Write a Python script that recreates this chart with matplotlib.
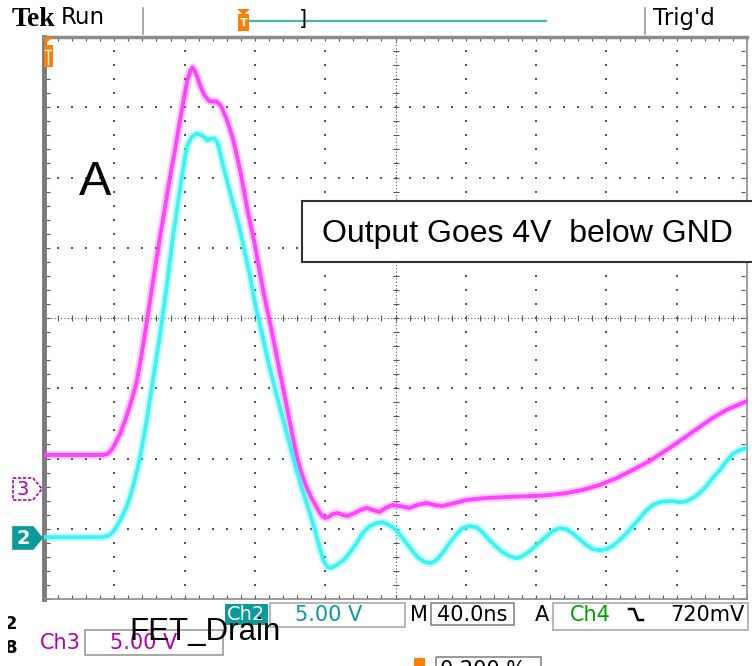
#!/usr/bin/env python3
# Tek scope capture: FET drain (Ch3, magenta) and output (Ch2, cyan)
import numpy as np
import matplotlib
matplotlib.use("Agg")
import matplotlib.pyplot as plt
from matplotlib.patches import Rectangle, Polygon

# --- trace data: time in ns, volts relative to channel ground ---
t_ch3 = [0.0, 33.3, 36.1, 38.4, 40.1, 43.0, 45.8, 48.1, 50.4, 52.6, 54.3, 56.6,
         58.9, 62.3, 65.7, 68.6, 71.4, 74.3, 77.1, 79.4, 81.6, 83.4, 84.5, 85.6,
         87.3, 89.0, 91.3, 94.2, 96.4, 98.1, 99.9, 101.0, 103.8, 107.3, 110.1,
         112.4, 115.8, 119.8, 122.6, 124.9, 127.7, 130.6, 134.0, 137.4, 140.8,
         143.7, 146.5, 149.4, 152.2, 155.1, 157.3, 159.7, 161.9, 164.2, 167.1,
         169.9, 172.8, 176.7, 180.1, 183.6, 187.0, 191.0, 194.3, 198.4, 202.3,
         208.0, 212.6, 217.7, 222.2, 226.8, 233.6, 240.5, 251.8, 263.2, 278.0,
         287.7, 297.3, 306.4, 316.1, 325.8, 334.9, 344.6, 354.2, 363.3, 373.0,
         380.4, 388.3, 394.6, 400.0]
v_ch3 = [2.35, 2.35, 2.42, 2.70, 3.06, 3.77, 4.69, 5.55, 6.47, 7.47, 8.61, 10.31,
         12.16, 14.94, 17.64, 19.77, 21.90, 23.90, 25.96, 27.59, 29.02, 29.73, 29.94, 29.73,
         29.23, 28.59, 27.95, 27.52, 27.52, 27.52, 27.31, 27.10, 26.31, 24.96, 23.47,
         22.12, 19.77, 17.42, 15.50, 13.94, 12.30, 10.53, 8.39, 6.26, 4.12,
         2.35, 1.07, 0.07, -0.71, -1.35, -1.85, -2.13, -2.06, -1.85, -1.78,
         -1.92, -1.99, -1.78, -1.56, -1.42, -1.56, -1.71, -1.42, -1.21, -1.28,
         -1.42, -1.21, -1.07, -1.21, -1.28, -1.07, -0.85, -0.71, -0.64, -0.57,
         -0.50, -0.36, -0.14, 0.21, 0.71, 1.28, 1.92, 2.70, 3.48, 4.34,
         4.98, 5.55, 5.90, 6.19]

t_ch2 = [0.0, 33.3, 37.3, 40.1, 43.5, 46.9, 49.8, 52.6, 54.9, 57.2, 59.5, 61.7,
         64.6, 67.4, 70.3, 73.1, 76.0, 78.2, 79.9, 81.6, 83.9, 86.7, 90.2, 93.0,
         95.3, 97.0, 98.7, 99.9, 101.6, 105.6, 111.2, 116.9, 120.3, 124.3, 128.3,
         135.7, 141.4, 146.5, 151.1, 154.5, 156.8, 159.0, 161.3, 163.0, 166.4,
         170.4, 173.8, 177.8, 181.2, 185.2, 189.2, 192.6, 196.6, 200.6, 204.0,
         208.0, 212.0, 216.5, 219.9, 223.3, 226.7, 230.7, 234.7, 238.1, 242.1,
         246.1, 249.5, 253.5, 257.5, 260.9, 264.9, 268.8, 272.3, 276.3, 280.2,
         284.8, 289.3, 293.3, 297.3, 300.7, 304.7, 308.7, 312.1, 316.1, 320.1,
         323.5, 327.5, 331.5, 334.9, 338.9, 342.9, 346.3, 350.3, 354.2, 357.6,
         361.6, 365.5, 369.0, 373.0, 376.9, 380.4, 384.4, 388.3, 391.7, 395.7,
         400.0]
v_ch2 = [0.00, 0.00, 0.14, 0.50, 1.21, 2.13, 3.20, 4.55, 5.83, 7.40, 9.17, 10.95,
         13.23, 15.65, 18.28, 21.12, 23.61, 25.39, 26.81, 27.88, 28.45, 28.73, 28.59, 28.23,
         28.38, 28.38, 28.09, 27.52, 26.60, 24.68, 22.05, 18.78, 16.50, 14.36, 12.09,
         8.53, 5.83, 3.56, 1.78, 0.36, -0.71, -1.64, -2.13, -2.20, -1.99,
         -1.64, -1.14, -0.43, 0.28, 0.78, 1.00, 1.07, 0.85, 0.50, -0.07,
         -0.71, -1.35, -1.78, -1.85, -1.64, -1.14, -0.43, 0.21, 0.64, 0.78,
         0.71, 0.36, -0.21, -0.71, -1.07, -1.35, -1.49, -1.35, -1.00, -0.57,
         -0.07, 0.43, 0.64, 0.57, 0.28, -0.14, -0.57, -0.85, -0.92, -0.85,
         -0.64, -0.21, 0.28, 0.78, 1.35, 1.92, 2.28, 2.49, 2.56, 2.56,
         2.49, 2.56, 2.77, 3.13, 3.63, 4.20, 4.76, 5.40, 5.90, 6.19,
         6.33]

VOLTS_PER_DIV = 5.0
NS_PER_DIV = 40.0
GND_CH3 = 1.58   # ground marker position, divisions from bottom
GND_CH2 = 0.88

MAGENTA = "#ff3cff"
CYAN = "#33f5f5"
TEAL = "#0a9a9a"
ORANGE = "#ff7f00"
PURPLE = "#b000b0"

fig = plt.figure(figsize=(7.52, 6.66), dpi=100)
fig.patch.set_facecolor("white")

# graticule area
ax = fig.add_axes([44 / 752, 67 / 666, 703 / 752, 562 / 666])
ax.set_xlim(0, 10 * NS_PER_DIV)
ax.set_ylim(0, 8)
ax.set_xticks([]); ax.set_yticks([])
for s in ax.spines.values():
    s.set_color("#8c8c8c")
    s.set_linewidth(1.2)
ax.spines["left"].set_linewidth(3.5)
ax.spines["left"].set_color("#7a7a7a")
ax.spines["top"].set_linewidth(2.5)

grid_c = "#555555"
xs_minor = np.arange(0, 400.1, NS_PER_DIV / 5)
ys_minor = np.arange(0, 8.01, 0.2)
for k in range(1, 10):
    if k == 5:
        continue
    xv = k * NS_PER_DIV
    ax.scatter(np.full_like(ys_minor, xv), ys_minor, s=1.3, c=grid_c, marker="s", lw=0)
for k in range(1, 8):
    if k == 4:
        continue
    ax.scatter(xs_minor, np.full_like(xs_minor, k), s=1.3, c=grid_c, marker="s", lw=0)

# center cross with fine ticks
ax.axvline(200, color=grid_c, lw=0.8, ls=(0, (1, 2)))
ax.axhline(4, color=grid_c, lw=0.8, ls=(0, (1, 2)))
ax.scatter(np.full_like(ys_minor, 200), ys_minor, s=18, c=grid_c, marker="_", lw=0.8)
ax.scatter(xs_minor, np.full_like(xs_minor, 4), s=18, c=grid_c, marker="|", lw=0.8)

# edge ticks
ax.scatter(xs_minor, np.full_like(xs_minor, 7.97), s=12, c=grid_c, marker="|", lw=0.8, clip_on=False)
ax.scatter(xs_minor, np.full_like(xs_minor, 0.03), s=12, c=grid_c, marker="|", lw=0.8, clip_on=False)
ax.scatter(np.full_like(ys_minor, 2), ys_minor, s=12, c=grid_c, marker="_", lw=0.8)
ax.scatter(np.full_like(ys_minor, 398), ys_minor, s=12, c=grid_c, marker="_", lw=0.8)

# traces
y3 = GND_CH3 + np.array(v_ch3) / VOLTS_PER_DIV
y2 = GND_CH2 + np.array(v_ch2) / VOLTS_PER_DIV
for t, y, c in [(t_ch3, y3, MAGENTA), (t_ch2, y2, CYAN)]:
    ax.plot(t, y, color=c, lw=6, alpha=0.25, solid_joinstyle="round", zorder=3)
    ax.plot(t, y, color=c, lw=2.8, alpha=0.95, solid_joinstyle="round", zorder=4)

ax.text(20, 5.93, "A", fontsize=35, family="Liberation Sans", ha="left", va="center")

# ---- overlay in pixel coordinates for the scope chrome ----
ov = fig.add_axes([0, 0, 1, 1], zorder=5)
ov.set_xlim(0, 752); ov.set_ylim(666, 0)
ov.axis("off")
ov.patch.set_alpha(0)

ov.add_patch(Rectangle((302, 201), 460, 61, fill=True, fc="white", ec="#333333", lw=1.5))
ov.text(322, 234, "Output Goes 4V  below GND", fontsize=23, family="Liberation Sans",
        ha="left", va="center")

# header
ov.text(12, 19, "Tek", fontsize=20, family="Liberation Serif", weight="bold", va="center")
ov.text(61, 18, "Run", fontsize=16.5, family="DejaVu Sans", va="center")
ov.plot([143, 143], [8, 34], color="#999999", lw=1.2)
ov.plot([645, 645], [8, 34], color="#999999", lw=1.2)
ov.text(653, 18, "Trig'd", fontsize=16.5, family="DejaVu Sans", va="center")
ov.plot([250, 546], [20.5, 20.5], color="#3fb8b0", lw=1.6)
ov.text(303, 19, "]", fontsize=15, va="center", ha="center")
ov.add_patch(Polygon([[237, 9], [250, 9], [243.5, 15]], closed=True, fc=ORANGE, ec="none"))
ov.add_patch(Rectangle((238, 14), 11, 17, fc=ORANGE, ec="none"))
ov.text(243.5, 23, "T", fontsize=8, color="white", weight="bold", ha="center", va="center")
# trigger position marker on graticule
ov.add_patch(Polygon([[44, 37], [53, 37], [44, 45]], closed=True, fc=ORANGE, ec="none"))
ov.add_patch(Rectangle((44, 45), 9, 22, fc=ORANGE, ec="none"))
ov.plot([45, 51], [50, 50], color="white", lw=1)
ov.plot([48, 48], [50, 64], color="white", lw=1)

# channel ground markers
ov.add_patch(Polygon([[13, 478], [33, 478], [42, 489], [33, 500], [13, 500]], closed=True,
                     fc="white", ec=PURPLE, lw=1.2, ls=(0, (2, 1))))
ov.text(23, 489.5, "3", fontsize=14, color=PURPLE, ha="center", va="center")
ov.add_patch(Polygon([[13, 527], [33, 527], [42, 538], [33, 549], [13, 549]], closed=True,
                     fc=TEAL, ec=TEAL, lw=1.2))
ov.text(23, 538.5, "2", fontsize=14, color="white", ha="center", va="center", weight="bold")

# status bar
ov.add_patch(Rectangle((225, 604), 43, 21, fc=TEAL, ec="none"))
ov.text(246.5, 614.5, "Ch2", fontsize=14, color="white", ha="center", va="center",
        family="DejaVu Sans")
ov.add_patch(Rectangle((270, 603), 135, 24, fill=False, ec="#aaaaaa", lw=1.2))
ov.text(295, 615, "5.00 V", fontsize=15, color=TEAL, va="center", family="DejaVu Sans")
ov.text(410, 615, "M", fontsize=15, va="center", family="DejaVu Sans")
ov.add_patch(Rectangle((431, 603), 83, 22, fill=False, ec="#888888", lw=1.2))
ov.text(437, 615, "40.0ns", fontsize=15, va="center", family="DejaVu Sans")
ov.text(535, 615, "A", fontsize=15, va="center", family="DejaVu Sans")
ov.add_patch(Rectangle((553, 603), 195, 27, fill=False, ec="#aaaaaa", lw=1.2))
ov.text(570, 615, "Ch4", fontsize=15, color="#00a000", va="center", family="DejaVu Sans")
ov.plot([629, 634, 638, 643], [609, 609, 620, 620], color="black", lw=1.8)
ov.text(670, 615, "720mV", fontsize=15, va="center", family="DejaVu Sans")

ov.text(40, 643, "Ch3", fontsize=15, color=PURPLE, va="center", family="DejaVu Sans")
ov.add_patch(Rectangle((85, 630), 138, 25, fill=False, ec="#999999", lw=1.2))
ov.text(110, 643, "5.00 V", fontsize=15, color=PURPLE, va="center", family="DejaVu Sans")
ov.text(129, 632, "FET_Drain", fontsize=22.5, family="Liberation Sans", va="center")

# partially hidden characters at the left edge
ov.text(17, 624, "2", fontsize=13, ha="right", va="center", weight="bold")
ov.text(17, 648, "8", fontsize=13, ha="right", va="center", weight="bold")
ov.add_patch(Rectangle((0, 610), 8, 56, fc="white", ec="none", zorder=6))

ov.add_patch(Rectangle((414, 658), 11, 10, fc=ORANGE, ec="none"))
ov.add_patch(Rectangle((436, 657), 105, 20, fill=False, ec="#888888", lw=1.2))
ov.text(440, 670, "0.200 %", fontsize=15, va="center", family="DejaVu Sans")

fig.savefig("out.png", dpi=100)
